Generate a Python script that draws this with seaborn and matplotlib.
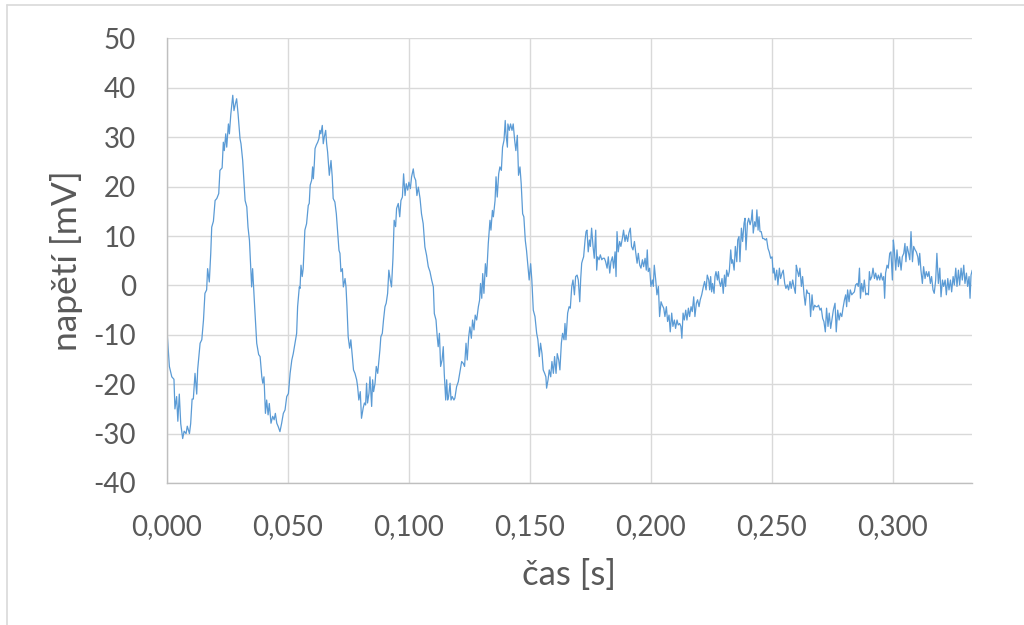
import numpy as np
import pandas as pd
import seaborn as sns
import matplotlib.pyplot as plt
from matplotlib.lines import Line2D
from matplotlib.ticker import FuncFormatter, MultipleLocator

# cas [ms] a napeti [mV], po usecich
cas_1 = [0.0, 1.1, 2.1, 3.0, 3.4, 4.1, 4.6, 5.2, 5.8, 6.6,
         7.2, 8.0, 8.5, 9.4, 9.9, 10.5, 11.0, 11.7, 12.4, 12.8,
         13.8, 14.5, 15.2, 15.8, 16.5, 16.9, 17.6, 18.2, 18.6, 19.3,
         20.0, 20.7, 21.5, 22.0, 22.9, 23.4, 23.8, 24.4, 24.8, 25.5,
         25.9, 26.5, 27.3, 27.8, 28.4, 28.9, 29.5, 30.3, 30.7, 31.4,
         32.4, 33.1, 33.6, 34.2, 34.7, 35.1, 35.5, 36.2, 37.2, 38.0,
         38.6, 39.3, 39.7, 40.2, 40.8, 41.3, 41.9, 42.4, 43.1, 43.8,
         44.4, 44.9, 45.5, 46.1, 46.8, 47.5, 48.2, 48.9, 49.6, 50.3,
         51.0, 51.7, 52.3, 53.0, 53.7, 54.1, 54.8]
napeti_1 = [-8.3, -16.4, -18.5, -19, -25, -22.5, -27.5, -22, -28, -31,
            -29.5, -30, -28.5, -30, -28, -23, -23, -17.8, -22, -17,
            -11.7, -11, -7, -1.6, -0.9, 3.4, 0.7, 6.5, 11.8, 13,
            17.2, 17.6, 18.6, 23.3, 23.8, 29, 27.3, 30.7, 28, 32.7,
            30.7, 34.7, 38.5, 35.4, 36.8, 37.8, 34.7, 29.7, 28.7, 25.3,
            17.2, 15.9, 11.8, 9.1, 3.8, -0.3, 3.4, -3, -11.7, -14,
            -14.4, -18.5, -19.8, -18.5, -25.9, -23.2, -26.2, -23.9, -27.9, -26.5,
            -27.2, -25.9, -27.9, -28.6, -29.6, -27.9, -25.9, -25.2, -22.5, -21.9,
            -17.8, -15.1, -13.8, -11.7, -9.7, -4.3, -0.3]

cas_2 = [55.1, 55.5, 56.0, 56.4, 57.1, 57.8, 58.5, 58.9, 59.3, 59.9,
         60.3, 60.6, 61.0, 61.3, 61.8, 62.4, 62.9, 63.3, 63.7, 64.3,
         64.7, 65.1, 65.7, 66.1, 66.5, 67.2, 67.9, 68.4, 68.8, 69.5,
         70.1, 70.6, 71.2, 71.6, 72.0, 72.6, 73.0, 73.7, 74.1, 74.5,
         75.0, 75.6, 76.1, 76.7, 77.2, 77.8, 78.5, 78.9, 79.4, 80.0,
         80.5, 81.2, 81.7, 82.2, 82.6, 83.0, 83.6, 84.0, 84.7, 85.1,
         85.5, 86.1, 86.6, 87.2, 87.7, 88.1, 88.5, 89.1, 89.6, 90.2,
         90.7, 91.3, 91.8, 92.4, 92.9, 93.5, 94.0, 94.6, 95.0, 95.7,
         96.3, 96.8, 97.4, 97.9, 98.5, 99.0, 99.6, 100.1, 100.7, 101.2,
         101.9, 102.3, 102.9, 103.4, 104.0, 104.7, 105.3, 106.0, 106.7, 107.4,
         108.1, 108.8, 109.5, 110.2]
napeti_2 = [-0.6, 4.1, 1.8, 3.4, 11.2, 12.5, 16.2, 16.6, 20.3, 21.3,
            24, 21.6, 24.6, 27.7, 28.4, 29, 29.7, 31.4, 30.7, 32.4,
            28.7, 30, 31.4, 28.7, 27, 22.3, 25.3, 22, 17.6, 16.9,
            14.5, 11.2, 7.1, 6.5, 2.8, 3.4, -0.3, 1.4, -0.3, -4.3,
            -10.4, -12.7, -11, -14.4, -17.1, -17.8, -19.1, -20.5, -23.2, -21.5,
            -26.9, -24.8, -23.8, -24.2, -19.8, -23.8, -21.8, -18.5, -24.5, -19.1,
            -21.5, -19.8, -16.4, -17.8, -15.1, -13.1, -10.4, -9.7, -7, -4.3,
            -3.6, -1.6, 3.1, 1.1, -0.3, 5.5, 13.2, 11.9, 15.6, 16.6,
            13.9, 17.2, 17.9, 22.6, 18.2, 20.6, 19.3, 20.9, 19.6, 22,
            23.6, 22, 21.3, 18.2, 19.9, 17.6, 14.5, 12.5, 7.8, 6.1,
            3.8, 2.8, 1.1, -0.3]

cas_3 = [110.6, 111.3, 111.8, 112.2, 112.7, 113.2, 113.8, 114.3, 114.7, 115.3,
         115.7, 116.1, 116.5, 117.1, 117.5, 118.0, 118.7, 119.1, 119.8, 120.5,
         121.2, 121.9, 122.6, 123.1, 123.7, 124.2, 124.8, 125.3, 125.9, 126.4,
         127.0, 127.5, 128.1, 128.8, 129.3, 129.7, 130.2, 130.6, 131.1, 131.7,
         132.2, 132.9, 133.6, 134.0, 134.6, 135.0, 135.7, 136.1, 136.6, 137.2,
         137.7, 138.3, 138.8, 139.4, 139.9, 140.2, 140.8, 141.0, 141.6, 142.1,
         142.7, 143.2, 143.8, 144.3, 144.9, 145.4, 146.0, 146.5, 147.1, 147.6,
         148.2, 148.7, 149.3, 149.8, 150.4, 150.9, 151.5, 152.2, 152.9, 153.4,
         154.0, 154.5, 155.1, 155.6, 156.2, 156.7, 157.0, 157.6, 158.1, 158.7,
         159.2, 159.8, 160.3, 160.9, 161.4, 162.0, 162.5, 163.1, 163.6, 164.2]
napeti_3 = [-5.7, -7, -10.4, -12.4, -9.7, -16.4, -15.1, -12.4, -17.8, -23.2,
            -19.1, -23.2, -22.5, -19.8, -23.2, -22.5, -23.2, -22.8, -20.5, -19.5,
            -17.4, -15.4, -15.8, -16.4, -11.7, -15.1, -10.4, -8.4, -10.7, -7,
            -9, -6, -7, -4.3, -3, 0.4, -2.6, 2.4, -1.6, 4.4,
            1.8, 8.5, 13.2, 11.2, 15.2, 13.9, 17.2, 22, 17.9, 22.6,
            24, 23.3, 28, 29.4, 33.4, 30.7, 28, 32.7, 31.4, 32.7,
            31.4, 32.7, 29.4, 27.3, 30.4, 22.3, 24, 20.6, 14.5, 13.9,
            9.1, 7.1, 3.8, 1.1, 4.4, 1.1, -5, -6.3, -9.7, -11,
            -14.4, -11.7, -13.8, -17.1, -17.8, -18.5, -20.8, -19.1, -17.1, -18.5,
            -15.4, -17.8, -14.4, -17.8, -13.8, -15.1, -17.1, -11.7, -9.7, -11]

cas_4 = [164.6, 165.0, 165.7, 166.3, 166.8, 167.4, 167.9, 168.5, 169.0, 169.6,
         170.1, 170.7, 171.1, 171.5, 171.9, 172.3, 172.9, 173.3, 173.7, 174.2,
         174.7, 175.1, 175.6, 176.2, 176.7, 177.3, 177.7, 178.1, 178.7, 179.2,
         179.8, 180.3, 180.9, 181.4, 182.0, 182.5, 183.1, 183.6, 184.2, 184.7,
         185.3, 185.7, 186.1, 186.6, 187.2, 187.7, 188.3, 188.8, 189.4, 189.9,
         190.5, 191.0, 191.6, 192.1, 192.7, 193.3, 193.8, 194.4, 194.9, 195.5,
         196.0, 196.6, 197.1, 197.7, 198.2, 198.6, 199.0, 199.6, 200.1, 200.7,
         201.1, 201.5, 202.1, 202.6, 203.2, 203.7, 204.3, 204.8, 205.4, 205.9,
         206.5, 207.0, 207.6, 208.1, 208.7, 209.2, 209.8, 210.3, 210.9, 211.4,
         212.0, 212.5, 212.9, 213.4, 213.9, 214.5, 215.0, 215.6, 216.1, 216.7,
         217.2, 217.8, 218.3, 218.9, 219.4, 220.0]
napeti_4 = [-7.7, -11, -5.6, -4.3, -4.6, -0.2, 1.1, -1.9, 1.8, 2.1,
            1.1, -3.3, 1.4, 4.5, 5.2, 5.8, 9.2, 10.9, 11.2, 6.8,
            9.2, 7.9, 11.6, 7.9, 5.5, 11.2, 3.1, 5.8, 5.2, 6.2,
            5.2, 5.5, 5.5, 4.8, 3.5, 5.8, 2.5, 4.8, 5.8, 3.5,
            6.8, 1.8, 10.9, 6.8, 8.9, 7.9, 9.5, 11.2, 8.9, 10.2,
            8.9, 10.6, 11.6, 7.9, 7.2, 8.9, 6.8, 4.5, 6.5, 4.1,
            3.5, 5.2, 3.8, 5.5, 3.1, 7.2, 2.8, 3.5, -0.2, 1.1,
            -0.2, 4.1, 1.1, -1.9, -0.2, -6.3, -3.3, -4, -4.6, -6.3,
            -4.3, -7.3, -6, -9.4, -5.6, -8.3, -7, -8.7, -7, -8,
            -7.7, -8.3, -10.7, -5.6, -7, -5, -7, -4.6, -6.3, -4.3,
            -5.3, -2.3, -6.3, -3.6, -2.9, -4.3]

cas_5 = [220.5, 221.1, 221.8, 222.3, 222.9, 223.4, 224.0, 224.4, 224.8, 225.2,
         225.6, 226.2, 226.6, 227.0, 227.6, 228.0, 228.4, 228.9, 229.5, 230.0,
         230.5, 231.0, 231.4, 232.0, 232.5, 233.1, 233.5, 233.9, 234.5, 235.0,
         235.6, 236.0, 236.5, 236.9, 237.5, 238.0, 238.6, 239.0, 239.4, 240.0,
         240.5, 241.1, 241.6, 242.0, 242.4, 243.0, 243.5, 243.9, 244.4, 244.8,
         245.2, 245.7, 246.3, 246.8, 247.4, 247.9, 248.5, 249.0, 249.6, 250.2,
         250.6, 251.0, 251.5, 252.1, 252.6, 253.2, 253.7, 254.3, 254.8, 255.4,
         255.9, 256.5, 257.0, 257.6, 258.1, 258.7, 259.2, 259.8, 260.2, 260.6,
         261.2, 261.7, 262.3, 262.8, 263.4, 263.9, 264.5, 265.0, 265.6, 266.1,
         266.7, 267.2, 267.8, 268.3, 268.9, 269.4, 270.0, 270.5, 271.1, 271.6,
         272.2, 272.7, 273.3, 273.8, 274.4, 275.0, 275.5]
napeti_5 = [-2.9, -1.9, -0.2, 0.8, -0.9, 2.1, 1.1, -0.9, 1.8, -1.3,
            0.4, -1.6, 1.8, 2.8, 1.1, 2.8, 0.8, -0.2, 1.4, -1.6,
            2.1, -0.2, 3.1, 1.8, 2.8, 7.2, 4.5, 5.2, 3.1, 7.9,
            4.8, 9.2, 9.9, 4.8, 11.6, 8.9, 12.6, 13.6, 7.2, 12.6,
            13.6, 12.3, 13.3, 15.3, 10.6, 12.9, 11.9, 15.3, 11.2, 13.9,
            10.9, 10.9, 9.5, 9.5, 9.2, 9.5, 7.5, 6.8, 5.5, 5.8,
            2.5, 3.5, 1.1, 3.1, 0.1, 3.5, 1.4, 2.5, 3.1, 0.4,
            -0.6, 0.1, -0.9, 0.8, -0.6, 1.1, -0.2, -1.6, 4.1, 3.1,
            1.8, 3.5, -0.2, 1.8, -1.9, -4, -0.9, -1.6, -1.6, -6.3,
            -1.9, -5, -4, -4.3, -4.3, -4, -5, -4.6, -6.7, -7.3,
            -9.4, -4.6, -8.3, -5.6, -8.7, -6.7, -5]

cas_6 = [276.2, 276.7, 277.3, 277.9, 278.4, 279.0, 279.5, 280.1, 280.6, 281.0,
         281.4, 282.0, 282.5, 283.1, 283.6, 284.2, 284.7, 285.3, 285.8, 286.3,
         286.7, 287.2, 287.8, 288.3, 288.9, 289.4, 290.0, 290.4, 290.8, 291.4,
         291.9, 292.5, 293.0, 293.6, 294.1, 294.7, 295.2, 295.8, 296.3, 296.7,
         297.1, 297.7, 298.2, 298.8, 299.3, 299.9, 300.3, 300.7, 301.3, 301.8,
         302.4, 302.9, 303.5, 304.0, 304.6, 305.1, 305.5, 306.0, 306.5, 307.1,
         307.6, 308.2, 308.7, 309.3, 309.8, 310.4, 310.8, 311.2, 311.7, 312.3,
         312.8, 313.4, 313.9, 314.5, 315.0, 315.6, 316.1, 316.7, 317.2, 317.8,
         318.3, 318.9, 319.5, 320.0, 320.6, 321.1, 321.7, 322.2, 322.8, 323.3,
         323.9, 324.4, 325.0, 325.5, 326.1, 326.6, 327.2, 327.7, 328.3, 328.8,
         329.4, 329.9, 330.5, 331.0, 331.6, 332.0, 332.4, 332.9]
napeti_6 = [-3.6, -9.4, -5, -7, -5.6, -6.3, -4.6, -2.9, -1.9, -4.3,
            -0.9, -3.3, -0.9, -1.9, -1.6, -1.3, 0.1, 0.4, -0.2, 3.5,
            -2.6, 0.4, -1.3, 1.1, -1.9, -1.6, -1.9, 2.8, 1.1, 1.8,
            3.5, 1.4, 2.5, 1.1, 2.1, 1.1, 2.5, 1.1, 1.8, -2.6,
            2.5, 4.1, 3.5, 6.5, 6.8, 1.1, 9.2, 7.2, 3.1, 7.2,
            3.8, 5.8, 3.1, 5.8, 6.5, 8.5, 4.8, 7.9, 6.8, 5.2,
            10.9, 4.8, 7.9, 7.2, 6.8, 5.8, 4.1, 6.5, 3.1, 0.4,
            3.8, 1.4, 2.8, 1.8, 2.8, 0.4, 1.8, -0.9, -1.6, 1.1,
            6.5, 0.4, 3.5, -2.3, 1.1, -0.2, 1.1, -1.9, 1.4, -0.9,
            1.1, -1.3, 1.8, 0.1, 3.5, -0.2, 3.1, 0.1, 3.5, 1.1,
            4.1, 0.4, 2.5, -0.2, 1.8, -2.6, 2.1, 3.1]

y_ticks = [-40, -30, -20, -10, 0, 10, 20, 30, 40, 50]

cas_ms = cas_1 + cas_2 + cas_3 + cas_4 + cas_5 + cas_6
napeti = napeti_1 + napeti_2 + napeti_3 + napeti_4 + napeti_5 + napeti_6
assert len(cas_ms) == len(napeti)

df = pd.DataFrame({'cas': np.array(cas_ms) / 1000.0, 'napeti': napeti})

sns.set_theme(style='whitegrid')
plt.rcParams['font.family'] = ['Lato', 'DejaVu Sans']
plt.rcParams['axes.unicode_minus'] = False

text_col = '#595959'
grid_col = '#D9D9D9'

fig = plt.figure(figsize=(10.24, 6.25), dpi=100)
ax = fig.add_axes([0.1628, 0.2272, 0.7864, 0.7112])

sns.lineplot(data=df, x='cas', y='napeti', ax=ax, color='#5B9BD5',
             linewidth=0.9, sort=False, estimator=None)

ax.set_xlim(0, 0.3328)
ax.set_ylim(-40, 50)
ax.set_yticks(y_ticks)
ax.set_yticklabels([str(v) for v in y_ticks])
ax.xaxis.set_major_locator(MultipleLocator(0.05))
ax.xaxis.set_major_formatter(FuncFormatter(lambda v, p: f'{v:.3f}'.replace('.', ',')))

ax.grid(True, color=grid_col, linewidth=1.0)
for s in ['top', 'right']:
    ax.spines[s].set_visible(False)
for s in ['left', 'bottom']:
    ax.spines[s].set_color('#BFBFBF')
    ax.spines[s].set_linewidth(1.0)

ax.tick_params(axis='both', length=0, labelsize=20, labelcolor=text_col)
ax.tick_params(axis='y', pad=22)
ax.tick_params(axis='x', pad=22)

ax.set_xlabel('čas [s]', fontsize=25, color=text_col)
ax.set_ylabel('napětí [mV]', fontsize=25.5, color=text_col)
ax.xaxis.set_label_coords(0.5, -0.207)
ax.xaxis.label.set_va('center')
ax.yaxis.set_label_coords(-0.125, 0.5)
ax.yaxis.label.set_va('center')

# ramecek grafu (jen horni a leva hrana jsou ve vyrezu)
fig.add_artist(Line2D([7 / 1024, 7 / 1024], [0, 1 - 5 / 625], color=grid_col, linewidth=1.2))
fig.add_artist(Line2D([7 / 1024, 1], [1 - 5 / 625, 1 - 5 / 625], color=grid_col, linewidth=1.2))

fig.savefig('out.png', dpi=100, facecolor='white')
